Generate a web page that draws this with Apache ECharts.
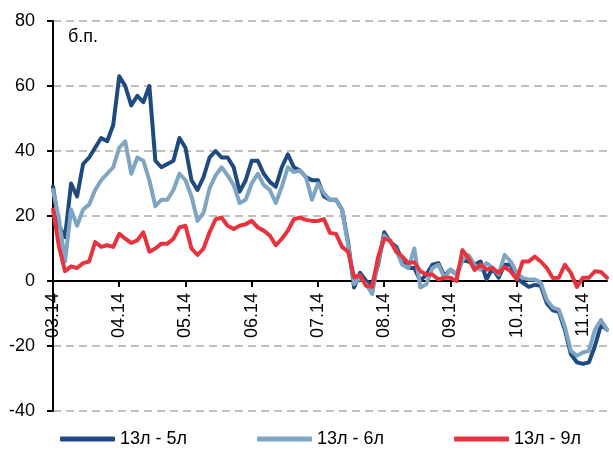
<!DOCTYPE html>
<html>
<head>
<meta charset="utf-8">
<script src="https://cdn.jsdelivr.net/npm/echarts@6/dist/echarts.min.js"></script>
<style>
  html, body { margin: 0; padding: 0; background: #fff; }
  #chart { width: 613px; height: 455px; }
</style>
</head>
<body>
<div id="chart"></div>
<script>
// Month labels; each month spans 11 observations on the category axis
const tickLabels = ['03.14', '04.14', '05.14', '06.14', '07.14', '08.14', '09.14', '10.14', '11.14'];
const pointsPerMonth = 11;

const seriesNames = ['13л - 5л', '13л - 6л', '13л - 9л'];

// Spread 13y - 5y, b.p.
const spread5 = [
  29, 17, 13.5, 30, 26, 36, 38, 41, 44, 43, 48,
  63, 60, 54, 57, 55, 60, 37, 35, 36, 37, 44,
  41, 31, 28, 32, 38, 40, 38, 38, 35, 27.5, 31,
  37, 37, 33, 30.5, 29, 35, 39, 35, 34, 32, 31,
  31, 26, 25, 25, 22, 12, -2, 2.5, 0, -1, 5,
  15, 12, 10.5, 6.5, 4, 4, 0, 2, 5, 5.5, 1.5,
  3.5, 2, 6.5, 6, 5, 6, 0.5, 4, 1, 5, 5,
  1, -0.5, -1.8, -1.2, -1.5, -6.8, -9, -9.5, -15, -22.5, -25,
  -25.5, -25, -20, -13.5, -15
];

// Spread 13y - 6y, b.p.
const spread6 = [
  28, 19, 6, 22, 17, 22, 23.5, 28, 31, 33, 35,
  41, 43, 33, 38, 37, 31, 23, 25, 25, 28, 33,
  31, 26, 18.5, 21, 28.5, 32.5, 35, 32.5, 29.5, 24, 25,
  30, 33, 29.5, 28, 24, 29, 35, 33.5, 34, 32, 25,
  30, 27, 25, 25, 22, 11, -1, 1, -1, -4, 6,
  14, 12, 9.5, 5, 4, 10, -2, -1, 4, 5, 1,
  3.5, 2, 6.5, 8, 5, 3.5, 5.5, 4, 2, 8, 6,
  2.5, 0.9, 0.5, 0.5, -0.5, -5.8, -8.2, -8.8, -14, -21.5, -23,
  -22, -21.5, -15, -12, -15
];

// Spread 13y - 9y, b.p.
const spread9 = [
  22, 10.5, 3, 4.5, 4, 5.5, 6, 12, 10.5, 11, 10.5,
  14.5, 13, 11.7, 12.5, 15, 9, 10, 11.5, 11.5, 13, 16.5,
  17, 10, 8, 10, 15, 19, 19.5, 17, 16, 17, 17.5,
  18.5, 16.5, 15.5, 14, 11, 13, 15.5, 19, 19.5, 18.8, 18.5,
  18.5, 19, 14.8, 14.5, 10.5, 9, 1.2, 1.8, -1.5, -1.8, 7.4,
  13, 12.5, 9, 7.5, 5.5, 5.8, 3, 2, 2, 0.5, 1,
  1, 0, 9.5, 7, 3.4, 5, 3.5, 4, 2.5, 4.3, 3,
  0.5, 6, 6, 7.5, 6, 4, 0.9, 1, 5, 2.5, -1.8,
  1, 1, 3, 2.8, 1
];

// Category axis: one entry per observation
const categories = spread5.map((_, i) => String(i));

const colors = ['#1f4a80', '#7ea5c3', '#e8333f'];
const font = 'Liberation Sans, Arial, sans-serif';

const yMin = -40, yMax = 80;
const gridTop = 21, gridBottom = 44, chartHeight = 455;
// Lift the category axis from the bottom edge of the grid up to the zero level
const plotHeight = chartHeight - gridTop - gridBottom;
const zeroOffset = -plotHeight * (0 - yMin) / (yMax - yMin);

const isMonthStart = (idx) => idx % pointsPerMonth === 0;

const chart = echarts.init(document.getElementById('chart'), null, { renderer: 'canvas' });

chart.setOption({
  animation: false,
  backgroundColor: '#fff',
  color: colors,
  textStyle: { fontFamily: font },
  grid: { left: 53, right: 6, top: gridTop, bottom: gridBottom, containLabel: false, outerBoundsMode: 'none' },
  legend: {
    left: 60,
    top: 430,
    padding: 0,
    itemWidth: 55,
    itemHeight: 5,
    itemGap: 70,
    icon: 'roundRect',
    textStyle: { fontSize: 18, color: '#000', fontFamily: font },
    data: seriesNames
  },
  graphic: [{
    type: 'text',
    left: 68,
    top: 28,
    style: { text: 'б.п.', fontSize: 18, fill: '#000', fontFamily: font }
  }],
  xAxis: {
    type: 'category',
    data: categories,
    boundaryGap: false,
    position: 'bottom',
    offset: zeroOffset,
    axisLine: { onZero: false, lineStyle: { color: '#000', width: 2 } },
    axisTick: { show: true, interval: (idx) => isMonthStart(idx), length: 6, lineStyle: { color: '#000', width: 2 } },
    axisLabel: {
      interval: (idx) => isMonthStart(idx),
      formatter: (v, idx) => tickLabels[idx / pointsPerMonth] || '',
      rotate: 90,
      margin: 12,
      fontSize: 18,
      color: '#000',
      fontFamily: font
    },
    splitLine: { show: false }
  },
  yAxis: {
    type: 'value',
    min: yMin,
    max: yMax,
    interval: 20,
    axisLine: { show: true, lineStyle: { color: '#000', width: 2 } },
    axisTick: { show: true, length: 6, lineStyle: { color: '#000', width: 2 } },
    axisLabel: { fontSize: 18, color: '#000', margin: 18, fontFamily: font },
    splitLine: { show: true, lineStyle: { color: '#c0c0c0', width: 2, type: [8, 5] } }
  },
  series: [spread5, spread6, spread9].map((values, k) => ({
    name: seriesNames[k],
    type: 'line',
    data: values,
    symbol: 'none',
    z: 2 + k,
    lineStyle: { width: 4, color: colors[k], cap: 'round', join: 'round' }
  }))
});
</script>
</body>
</html>
